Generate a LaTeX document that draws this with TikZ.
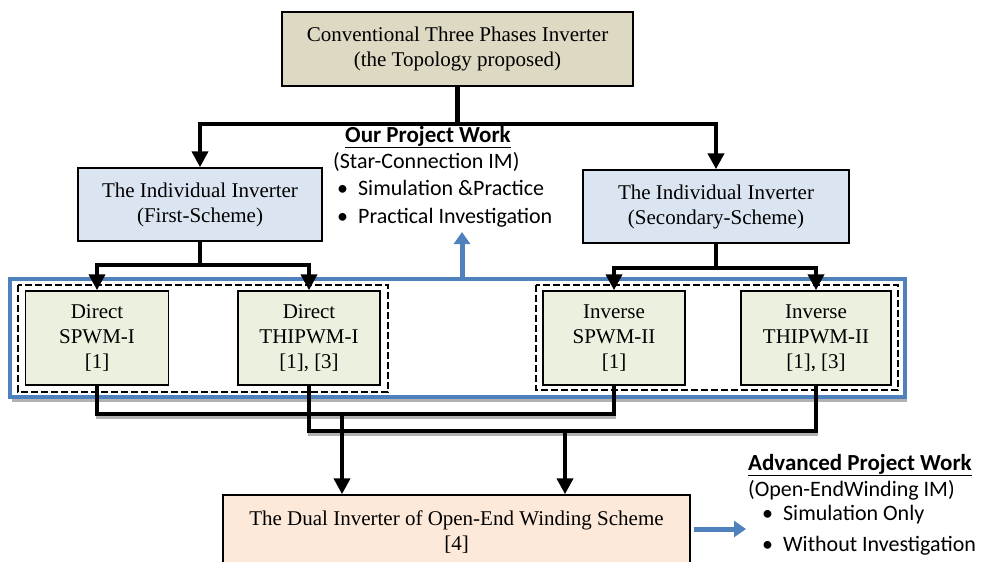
\documentclass[tikz,border=0pt]{standalone}
\usepackage{fontspec}
\setmainfont{Liberation Serif}
\newfontfamily\calibri{Carlito}
\usetikzlibrary{arrows.meta}
\definecolor{topfill}{HTML}{DDD9C3}
\definecolor{indfill}{HTML}{DBE5F1}
\definecolor{pwmfill}{HTML}{EBF1DE}
\definecolor{dualfill}{HTML}{FDE9D9}
\definecolor{wordblue}{HTML}{4F81BD}
\begin{document}
\begin{tikzpicture}[
    x=1pt, y=-1pt,
    every node/.style={font=\fontsize{21}{25}\selectfont, align=center, inner sep=0pt},
    blk/.style={draw, line width=1.5pt},
    note/.style={font=\calibri\fontsize{22}{26}\selectfont, anchor=west},
    head/.style={font=\calibri\bfseries\fontsize{23}{27}\selectfont},
    conn/.style={line width=4.3pt},
    arr/.style={conn, -{Triangle[length=16pt, width=16pt]}},
    shd/.style={preaction={draw=black!30, line width=3pt, transform canvas={yshift=-4pt}}},
    bluearr/.style={draw=wordblue, line width=5pt, -{Triangle[length=12pt, width=16pt]}},
    dashbox/.style={draw, line width=2pt, dash pattern=on 7pt off 3pt},
]
  \useasboundingbox (0,0) rectangle (989,562);

  \fill [black!30] (12,283) rectangle (907,402);
  \draw [wordblue, line width=3.5pt, fill=white] (10,279) rectangle (905,397);

  \node [blk, fill=topfill,  minimum width=351pt, minimum height=74pt] (top)     at (457.5, 49)  {Conventional Three Phases Inverter\\(the Topology proposed)};
  \node [blk, fill=indfill,  minimum width=244pt, minimum height=73pt] (first)   at (200,204.5)  {The Individual Inverter\\(First-Scheme)};
  \node [blk, fill=indfill,  minimum width=266pt, minimum height=73pt] (second)  at (716,206.5)  {The Individual Inverter\\(Secondary-Scheme)};
  \node [blk, fill=pwmfill,  minimum width=143pt, minimum height=94pt] (spwmi)   at (97,  338)   {Direct\\SPWM-I\\{[1]}};
  \node [blk, fill=pwmfill,  minimum width=142pt, minimum height=94pt] (thipwmi) at (309, 338)   {Direct\\THIPWM-I\\{[1], [3]}};
  \node [blk, fill=pwmfill,  minimum width=142pt, minimum height=94pt] (spwmii)  at (614, 338)   {Inverse\\SPWM-II\\{[1]}};
  \node [blk, fill=pwmfill,  minimum width=150pt, minimum height=94pt] (thipwmii) at (816, 338)  {Inverse\\THIPWM-II\\{[1], [3]}};
  \node [blk, fill=dualfill, minimum width=467pt, minimum height=74pt] (dual)    at (456.5,532)  {The Dual Inverter of Open-End Winding Scheme\\{[4]}};

  \draw [dashbox] (18,285)  rectangle (388,392);
  \draw [dashbox] (536,285) rectangle (898,390);

  \draw [arr] (top.south) -- ++(0,37) -| (first.north);
  \draw [arr] (top.south) -- ++(0,37) -| (second.north);
  \draw [arr] (first.south)  -- ++(0,23) -| (spwmi.north);
  \draw [arr] (first.south)  -- ++(0,23) -| (thipwmi.north);
  \draw [arr] (second.south) -- ++(0,24) -| (spwmii.north);
  \draw [arr] (second.south) -- ++(0,24) -| (thipwmii.north);

  \draw [conn, shd] (spwmi.south)   -- ++(0,28) -| (spwmii.south);
  \draw [conn, shd] (thipwmi.south) -- ++(0,45) -| (thipwmii.south);
  \coordinate (j1) at (342,413);
  \coordinate (j2) at (565,430);
  \draw [arr] (j1) -- (j1 |- dual.north);
  \draw [arr] (j2) -- (j2 |- dual.north);

  \coordinate (up) at (462,279);
  \draw [bluearr] (up) -- ++(0,-47);
  \coordinate (adv) at (746,529);
  \draw [bluearr] (dual.east) ++(3,-3) coordinate (out) (out) -- (adv |- out);

  \node [head] (ourhead) at (428,137) {\underline{Our Project Work}};
  \node [note] (ourim)   at (333,162) {(Star-Connection IM)};
  \node [note] (our1)    at (337,188) {\textbullet\hspace{10pt}Simulation \&Practice};
  \node [note] (our2)    at (337,218) {\textbullet\hspace{10pt}Practical Investigation};

  \node [head, anchor=west] (advhead) at (748,465) {\underline{Advanced Project Work}};
  \node [note] (advim)   at (748,490) {(Open-EndWinding IM)};
  \node [note] (adv1)    at (762,515) {\textbullet\hspace{10pt}Simulation Only};
  \node [note] (adv2)    at (762,546) {\textbullet\hspace{10pt}Without Investigation};
\end{tikzpicture}
\end{document}
